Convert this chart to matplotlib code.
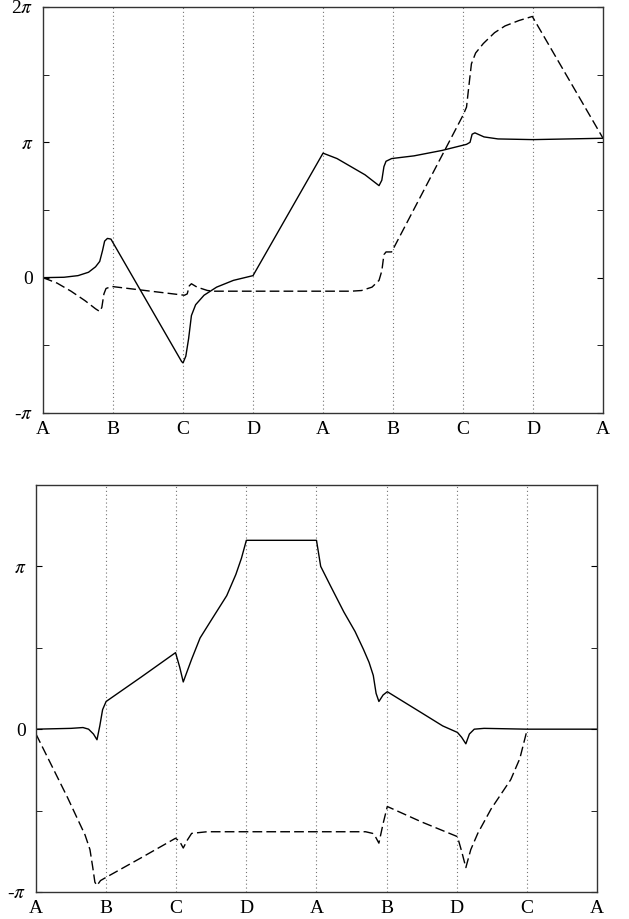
#!/usr/bin/env python
# -*- coding: utf8 -*-

"""Phase along the closed path, two orderings of the corner points."""

import numpy as np
import matplotlib
matplotlib.use('Agg')
import matplotlib.pyplot as plt
from matplotlib.ticker import MultipleLocator

plt.rcParams['font.family'] = ['Liberation Serif', 'DejaVu Serif']
plt.rcParams['mathtext.fontset'] = 'stix'

# corner labels along the path (one unit per leg)
top_corners = ['A', 'B', 'C', 'D', 'A', 'B', 'C', 'D', 'A']
bottom_corners = ['A', 'B', 'C', 'D', 'A', 'B', 'D', 'C', 'A']

# phases in units of pi
top_solid_x = [0, 0.3, 0.5, 0.65, 0.75, 0.81, 0.85, 0.88, 0.92, 0.97,
               1.98, 2.0, 2.04, 2.08, 2.12, 2.18, 2.3, 2.48, 2.72, 3.0,
               4.0, 4.2, 4.4, 4.6, 4.75, 4.8, 4.84, 4.87, 4.9, 4.98,
               5.3, 5.7, 6.05, 6.1, 6.13, 6.17, 6.3, 6.5, 7.0, 8.0]
top_solid_y = [0, 0.003, 0.015, 0.04, 0.08, 0.12, 0.2, 0.27, 0.29, 0.285,
               -0.62, -0.63, -0.58, -0.45, -0.28, -0.2, -0.13, -0.07, -0.02, 0.015,
               0.92, 0.88, 0.82, 0.76, 0.70, 0.68, 0.72, 0.82, 0.86, 0.88,
               0.9, 0.94, 0.985, 1.0, 1.06, 1.07, 1.04, 1.025, 1.02, 1.03]

top_dash_x = [0, 0.2, 0.4, 0.6, 0.75, 0.81, 0.84, 0.87, 0.9, 0.98,
              2.02, 2.06, 2.09, 2.12, 2.2, 2.35, 2.45, 4.4, 4.55, 4.7,
              4.8, 4.84, 4.87, 4.9, 4.98, 6.0, 6.05, 6.08, 6.12, 6.18,
              6.29, 6.45, 6.6, 6.8, 6.99, 8.0]
top_dash_y = [0, -0.04, -0.1, -0.17, -0.23, -0.25, -0.22, -0.12, -0.08, -0.065,
              -0.13, -0.12, -0.06, -0.045, -0.07, -0.095, -0.1, -0.1, -0.095, -0.07,
              -0.02, 0.05, 0.17, 0.19, 0.19, 1.2, 1.26, 1.4, 1.58, 1.66,
              1.73, 1.81, 1.86, 1.9, 1.93, 1.03]

bottom_solid_x = [0, 0.5, 0.67, 0.75, 0.82, 0.87, 0.91, 0.95, 1.0, 1.5,
                  1.99, 2.05, 2.1, 2.16, 2.22, 2.34, 2.5, 2.72, 2.85, 2.93,
                  3.0, 4.0, 4.06, 4.2, 4.39, 4.55, 4.67, 4.75, 4.81, 4.85,
                  4.89, 4.95, 5.01, 5.5, 5.8, 6.01, 6.07, 6.13, 6.18, 6.25,
                  6.39, 7.0, 8.0]
bottom_solid_y = [0, 0.005, 0.01, 0.0, -0.03, -0.065, 0.02, 0.12, 0.17, 0.32,
                  0.47, 0.38, 0.29, 0.36, 0.43, 0.56, 0.67, 0.82, 0.95, 1.05,
                  1.16, 1.16, 1.0, 0.88, 0.72, 0.6, 0.49, 0.41, 0.33, 0.22,
                  0.17, 0.21, 0.23, 0.1, 0.02, -0.02, -0.05, -0.09, -0.03, 0.0,
                  0.005, 0.0, 0.0]

bottom_dash_x = [0, 0.15, 0.3, 0.45, 0.58, 0.7, 0.77, 0.81, 0.84, 0.87,
                 0.92, 1.0, 1.5, 1.99, 2.05, 2.1, 2.16, 2.22, 2.44, 4.7,
                 4.8, 4.84, 4.89, 4.95, 5.01, 5.5, 6.01, 6.07, 6.13, 6.2,
                 6.3, 6.49, 6.77, 6.9, 7.0]
bottom_dash_y = [-0.03, -0.16, -0.29, -0.42, -0.54, -0.65, -0.74, -0.85, -0.94, -0.96,
                 -0.93, -0.91, -0.79, -0.67, -0.69, -0.73, -0.68, -0.64, -0.63, -0.63,
                 -0.64, -0.66, -0.70, -0.58, -0.475, -0.57, -0.66, -0.75, -0.85, -0.74,
                 -0.64, -0.49, -0.31, -0.18, -0.01]


def setup_axes(ax, corners, ylim, yticks, ylabels):
    ax.set_xlim(0, len(corners) - 1)
    ax.set_ylim(*ylim)
    for i in range(1, len(corners) - 1):
        ax.axvline(i, color='0.45', ls=(0, (1, 2.5)), lw=0.8, zorder=0)
    ax.set_xticks(range(len(corners)))
    ax.set_xticklabels(corners, fontsize=14)
    ax.set_yticks(yticks)
    ax.set_yticklabels(ylabels, fontsize=14)
    ax.yaxis.set_minor_locator(MultipleLocator(0.5))
    ax.tick_params(axis='x', which='both', length=0, pad=6)
    ax.tick_params(axis='y', which='both', direction='in', length=4,
                   left=True, right=True, pad=7)
    for s in ax.spines.values():
        s.set_linewidth(1.0)
        s.set_color('0.2')


fig = plt.figure(figsize=(6.29, 9.19), dpi=100)
fig.patch.set_facecolor('white')

ax_top = fig.add_axes([0.0684, 0.5506, 0.8903, 0.4418])
ax_top.plot(top_solid_x, top_solid_y, c='k', lw=1.0)
ax_top.plot(top_dash_x, top_dash_y, c='k', lw=1.0, dashes=(7, 3))
setup_axes(ax_top, top_corners, (-1, 2), [-1, 0, 1, 2],
           [r'-$\pi$', '0', r'$\pi$', r'2$\pi$'])

ax_bot = fig.add_axes([0.0572, 0.0294, 0.8919, 0.4429])
ax_bot.plot(bottom_solid_x, bottom_solid_y, c='k', lw=1.0)
ax_bot.plot(bottom_dash_x, bottom_dash_y, c='k', lw=1.0, dashes=(7, 3))
setup_axes(ax_bot, bottom_corners, (-1, 1.5), [-1, 0, 1],
           [r'-$\pi$', '0', r'$\pi$'])

fig.savefig('out.png', dpi=100)
